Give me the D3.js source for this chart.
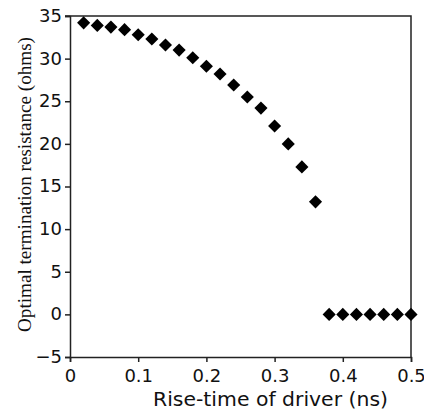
<!DOCTYPE html>
<html>
<head>
<meta charset="utf-8">
<script src="https://cdn.jsdelivr.net/npm/d3@7/dist/d3.min.js"></script>
<style>
  html, body { margin: 0; padding: 0; background: #fff; }
  svg { display: block; }
</style>
</head>
<body>
<svg id="chart" width="424" height="416"></svg>
<script>
// Rise-time of the driver (ns)
const riseTimes = [0.02, 0.04, 0.06, 0.08, 0.10, 0.12, 0.14, 0.16, 0.18, 0.20,
                   0.22, 0.24, 0.26, 0.28, 0.30, 0.32, 0.34, 0.36,
                   0.38, 0.40, 0.42, 0.44, 0.46, 0.48, 0.50];
// Optimal termination resistance (ohms)
const resistance = [34.2, 33.9, 33.7, 33.4, 32.8, 32.3, 31.6, 31.0, 30.1, 29.1,
                    28.2, 26.9, 25.5, 24.2, 22.1, 20.0, 17.3, 13.2,
                    0, 0, 0, 0, 0, 0, 0];
const xTicks = [0, 0.1, 0.2, 0.3, 0.4, 0.5];
const xTickLabels = ["0", "0.1", "0.2", "0.3", "0.4", "0.5"];
const yTicks = [-5, 0, 5, 10, 15, 20, 25, 30, 35];
const xTitle = "Rise-time of driver (ns)";
const yTitle = "Optimal termination resistance (ohms)";

const svg = d3.select("#chart");
const plotLeft = 70, plotRight = 411, plotTop = 16, plotBottom = 357;

const x = d3.scaleLinear().domain([0, 0.5]).range([plotLeft, plotRight]);
const y = d3.scaleLinear().domain([-5, 35]).range([plotBottom, plotTop]);

const axisColor = "#222";
const tickFont = "'DejaVu Sans', sans-serif";

// frame: top and right edges
svg.append("path")
  .attr("d", `M${plotLeft - 5},${plotTop}H${plotRight}V${plotBottom}`)
  .attr("fill", "none").attr("stroke", axisColor).attr("stroke-width", 1.5);

// x axis
const gx = svg.append("g")
  .attr("transform", `translate(0,${plotBottom})`)
  .call(d3.axisBottom(x).tickValues(xTicks)
    .tickFormat((d, i) => xTickLabels[i])
    .tickSize(5).tickPadding(6));
// y axis
const gy = svg.append("g")
  .attr("transform", `translate(${plotLeft},0)`)
  .call(d3.axisLeft(y).tickValues(yTicks).tickSize(5).tickPadding(3));

[gx, gy].forEach(g => {
  g.select(".domain").attr("stroke", axisColor).attr("stroke-width", 1.5);
  g.selectAll(".tick line").attr("stroke", axisColor).attr("stroke-width", 1.5);
  g.selectAll(".tick text")
    .attr("fill", "#111")
    .style("font-family", tickFont)
    .style("font-size", "18px");
});
gy.selectAll(".tick text").attr("dy", "0.3em");
gx.selectAll(".tick text").attr("dy", "0.75em");

// data markers: filled diamonds
const diamond = d3.symbol().type(d3.symbolSquare).size(86);
svg.append("g").selectAll("path")
  .data(riseTimes.map((t, i) => [t, resistance[i]]))
  .join("path")
  .attr("d", diamond)
  .attr("transform", d => `translate(${x(d[0])},${y(d[1])}) rotate(45)`)
  .attr("fill", "#000");

// axis titles
svg.append("text")
  .attr("x", 270.5).attr("y", 406)
  .attr("text-anchor", "middle")
  .attr("textLength", 235).attr("lengthAdjust", "spacingAndGlyphs")
  .style("font-family", tickFont)
  .style("font-size", "19px")
  .attr("fill", "#111")
  .text(xTitle);

svg.append("text")
  .attr("transform", "translate(30.5,184.5) rotate(-90)")
  .attr("text-anchor", "middle")
  .attr("textLength", 295).attr("lengthAdjust", "spacingAndGlyphs")
  .style("font-family", "'Liberation Serif', 'Times New Roman', serif")
  .style("font-size", "18.5px")
  .attr("fill", "#111")
  .text(yTitle);
</script>
</body>
</html>
